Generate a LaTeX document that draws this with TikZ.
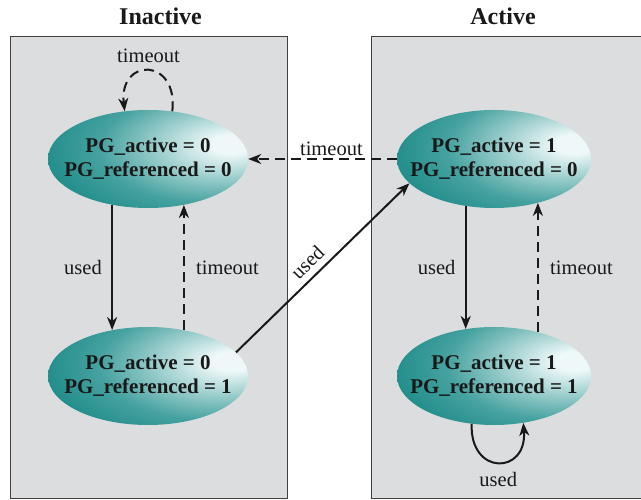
\documentclass[tikz,border=0pt]{standalone}
\usepackage{fontspec}
\setmainfont{Liberation Serif}
\usepackage{xcolor}
\usepackage{tikz}
\usetikzlibrary{arrows.meta,shapes.geometric,positioning}
\definecolor{panelgray}{RGB}{220,221,223}
\definecolor{pglight}{RGB}{238,248,248}
\definecolor{pgmid}{RGB}{70,162,160}
\definecolor{pgdark}{RGB}{0,122,119}
\pgfdeclareradialshading{pgshade}{\pgfpoint{22bp}{8bp}}{%
  color(0bp)=(pglight); color(5bp)=(pglight); color(28bp)=(pgmid);
  color(50bp)=(pgdark); color(100bp)=(pgdark)}
\tikzset{
  panel/.style={fill=panelgray,draw=black!75,line width=1pt},
  state/.style={ellipse,shade,shading=pgshade,minimum width=200pt,minimum height=98pt,inner sep=0pt},
  stxt/.style={align=center,text=black!90,font=\fontsize{21}{24}\selectfont\bfseries},
  lbl/.style={text=black!90,font=\fontsize{20.5}{24}\selectfont},
  ttl/.style={text=black!90,font=\fontsize{24}{28}\selectfont\bfseries},
  tr/.style={line width=2pt,black!90,-{Stealth[length=13pt,width=10pt,inset=4pt]}},
  trd/.style={tr,dash pattern=on 10pt off 6pt}
}

\begin{document}
\begin{tikzpicture}[x=1pt,y=1pt]
\useasboundingbox (0,0) rectangle (641,500);
% panels
\draw[panel] (10,1) rectangle (287,463);
\draw[panel] (371,1) rectangle (660,463);
\node[ttl] (tin) at (160.5,484) {Inactive};
\node[ttl] (tact) at (503,484) {Active};
% states
\node[state] (s00) at (148,341) {};
\node[stxt] (t00) at (s00) {PG\_active = 0\\PG\_referenced = 0};
\node[state] (s01) at (148,124) {};
\node[stxt] (t01) at (s01) {PG\_active = 0\\PG\_referenced = 1};
\node[state,minimum width=194pt] (s10) at (494,341) {};
\node[stxt] (t10) at (s10) {PG\_active = 1\\PG\_referenced = 0};
\node[state,minimum width=194pt] (s11) at (494,124) {};
\node[stxt] (t11) at (s11) {PG\_active = 1\\PG\_referenced = 1};
% transitions
\draw[trd] (s00.63) .. controls +(6,54) and +(-6,54) .. (s00.116)
  node[lbl,pos=0.5,above=4pt] (l1) {timeout};
\draw[tr] (s00.232) -- (s01.128) node[lbl,midway,left=6pt] (l2) {used};
\draw[trd] (s01.52) -- (s00.308) node[lbl,midway,right=8pt] (l3) {timeout};
\draw[trd] (s10.west) -- (s00.east) node[lbl,pos=0.44,above=-1pt] (l4) {timeout};
\draw[tr] (s01.15) -- (s10.196) node[lbl,pos=0.47,sloped,above=3pt] (l5) {used};
\draw[tr] (s10.239) -- (s11.121) node[lbl,midway,left=6pt] (l6) {used};
\draw[trd] (s11.45) -- (s10.315) node[lbl,midway,right=8pt] (l7) {timeout};
\draw[tr] (s11.245) .. controls +(-2,-52) and +(4,-52) .. (s11.302)
  node[lbl,pos=0.5,below=6pt] (l8) {used};
\end{tikzpicture}
\end{document}
